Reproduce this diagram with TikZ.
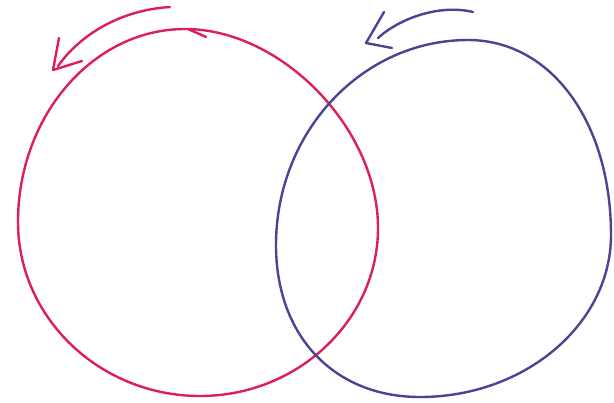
\documentclass[tikz,border=0pt]{standalone}
\definecolor{redpen}{RGB}{220,30,90}
\definecolor{bluepen}{RGB}{78,66,148}
\tikzset{pen/.style={line width=2.4bp,line cap=round,line join=round}}
\begin{document}
\begin{tikzpicture}[x=1bp,y=-1bp]
\useasboundingbox (0,0) rectangle (614,402);
\fill[white] (0,0) rectangle (614,402);
% red circle
\coordinate (rT) at (185,29);
\coordinate (rR) at (378,228);
\coordinate (rB) at (200,396);
\coordinate (rL) at (18,222);
\draw[pen,redpen] (rT) .. controls (281,29) and (378,128) .. (rR)
  .. controls (378,320) and (298,396) .. (rB)
  .. controls (100,396) and (18,318) .. (rL)
  .. controls (18,116) and (93,29) .. (rT);
\coordinate (rt1) at (188,29);
\coordinate (rt2) at (206,37);
\draw[pen,redpen] (rt1) -- (rt2);
% blue circle
\coordinate (bT) at (468,40);
\coordinate (bR) at (611,235);
\coordinate (bB) at (420,397);
\coordinate (bL) at (276,245);
\draw[pen,bluepen] (bT) .. controls (551,40) and (611,122) .. (bR)
  .. controls (611,324) and (525,397) .. (bB)
  .. controls (334,397) and (276,336) .. (bL)
  .. controls (276,132) and (362,40) .. (bT);
% red arrow
\coordinate (ra0) at (170,7);
\coordinate (ra1) at (58,66);
\coordinate (ratip) at (53,70);
\coordinate (rab1) at (59,38);
\coordinate (rab2) at (82,61);
\draw[pen,redpen] (ra0) .. controls (120,10) and (80,35) .. (ra1);
\draw[pen,redpen] (rab1) -- (ratip) -- (rab2);
% blue arrow
\coordinate (ba0) at (473,12);
\coordinate (ba1) at (378,38);
\coordinate (batip) at (366,43);
\coordinate (bab1) at (384,12);
\coordinate (bab2) at (392,48);
\draw[pen,bluepen] (ba0) .. controls (440,4) and (400,18) .. (ba1);
\draw[pen,bluepen] (bab1) -- (batip) -- (bab2);
\end{tikzpicture}
\end{document}
